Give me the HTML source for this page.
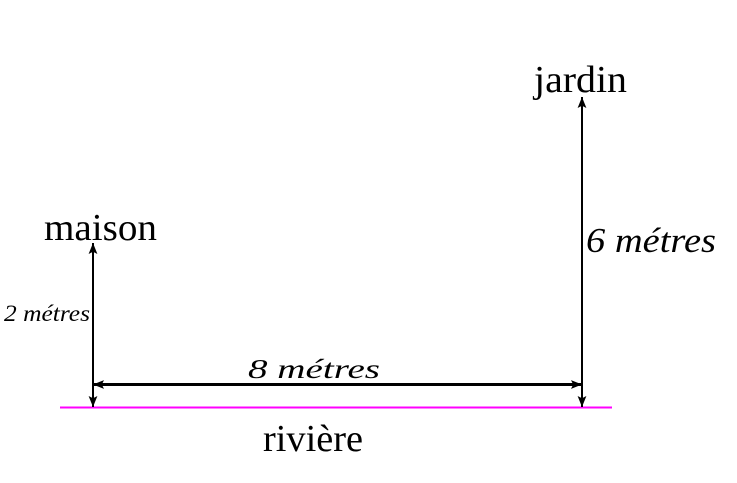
<!DOCTYPE html>
<html><head><meta charset="utf-8"><style>
html,body{margin:0;padding:0;background:#fff;}
svg{display:block;}
text{font-family:"Liberation Serif",serif;fill:#000;}
</style></head><body>
<svg width="737" height="483" viewBox="0 0 737 483" xmlns="http://www.w3.org/2000/svg">
<defs>
<marker id="a" viewBox="0 0 10 10" refX="10" refY="5" markerWidth="11" markerHeight="11" markerUnits="userSpaceOnUse" orient="auto-start-reverse">
<path d="M0,1 L10,5 L0,9 L2,5 Z" fill="#000"/>
</marker>
</defs>
<line x1="60" y1="407.5" x2="612" y2="407.5" stroke="#ff00ff" stroke-width="2"/>
<line x1="93" y1="243" x2="93" y2="407" stroke="#000" stroke-width="2" marker-start="url(#a)" marker-end="url(#a)"/>
<line x1="582" y1="97" x2="582" y2="407" stroke="#000" stroke-width="2" marker-start="url(#a)" marker-end="url(#a)"/>
<line x1="93" y1="384.5" x2="582" y2="384.5" stroke="#000" stroke-width="3" marker-start="url(#a)" marker-end="url(#a)"/>
<text x="534" y="92" font-size="38" textLength="93" lengthAdjust="spacingAndGlyphs">jardin</text>
<text x="44" y="240" font-size="38" textLength="113" lengthAdjust="spacingAndGlyphs">maison</text>
<text x="263" y="451" font-size="38" textLength="100" lengthAdjust="spacingAndGlyphs">rivière</text>
<text x="586" y="252" font-size="35" font-style="italic" textLength="130" lengthAdjust="spacingAndGlyphs">6 métres</text>
<text x="4" y="321" font-size="23" font-style="italic" textLength="86" lengthAdjust="spacingAndGlyphs">2 métres</text>
<text x="248" y="378" font-size="27" font-style="italic" textLength="132" lengthAdjust="spacingAndGlyphs">8 métres</text>
</svg>
</body></html>
